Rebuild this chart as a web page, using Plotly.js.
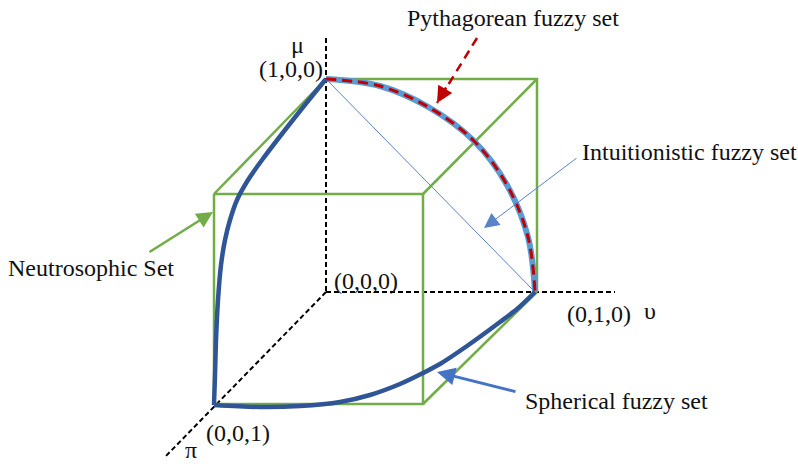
<!DOCTYPE html>
<html><head><meta charset="utf-8">
<script src="https://cdn.plot.ly/plotly-3.0.1.min.js"></script>
<style>html,body{margin:0;padding:0;background:#fff}#c{width:798px;height:466px}</style>
</head><body><div id="c"></div>
<script>
// Diagram geometry (image coordinates, y down)
var cubeFrontX = [214, 423, 423, 214, 214];
var cubeFrontY = [194, 194, 404, 404, 194];
var cubeBackX = [326, 537, 537];
var cubeBackY = [79, 79, 292];
var cubeEdgesX = [214, 326, null, 423, 537, null, 423, 537];
var cubeEdgesY = [194, 79, null, 194, 79, null, 404, 292];

var axisMuX = [326, 326], axisMuY = [38, 292];
var axisNuX = [326, 615], axisNuY = [292, 292];
var axisPiX = [326, 165], axisPiY = [292, 457];

var ifsX = [326, 535], ifsY = [79, 292];
var pfsX = [326, 380, 430, 474, 507, 528, 535];
var pfsY = [79, 86, 108, 141, 185, 237, 292];

// spherical fuzzy set: A -> C branch and C -> B branch
var sfsAX = [326, 300, 262, 248, 237, 230, 225, 221, 218, 216, 215, 214];
var sfsAY = [79, 111, 160, 180, 200, 220, 240, 265, 300, 340, 375, 405];
var sfsBX = [214, 260, 300, 340, 370, 400, 423, 440, 467, 500, 517, 535];
var sfsBY = [405, 407, 406, 402, 395, 384, 373, 364, 346, 322, 309, 292];

var labels = ["Pythagorean fuzzy set", "Intuitionistic fuzzy set", "Neutrosophic Set", "Spherical fuzzy set",
              "μ", "(1,0,0)", "(0,0,0)", "(0,1,0)", "υ", "(0,0,1)", "π"];
var labelX = [513, 689, 91, 616, 297, 291, 366, 599, 650, 238, 191];
var labelY = [18, 152, 268, 401, 45, 69, 281, 314, 311, 433, 450];

// arrows: [tailX, tailY, tipX, tipY]
var arrowPyth = [477, 38, 437, 103];
var arrowInt = [578, 157, 484, 228];
var arrowNeu = [148, 253, 213, 212];
var arrowSph = [517, 392, 437, 372];

var GREEN = '#70AD47', DARKBLUE = '#2F5597', LIGHTBLUE = '#5B9BD5', RED = '#C00000', THIN = '#5A82C8';

var traces = [
  {x: axisMuX, y: axisMuY, mode: 'lines', line: {color: '#000', width: 2, dash: '5px,3px'}},
  {x: axisNuX, y: axisNuY, mode: 'lines', line: {color: '#000', width: 2, dash: '5px,3px'}},
  {x: axisPiX, y: axisPiY, mode: 'lines', line: {color: '#000', width: 2, dash: '5px,3px'}},
  {x: cubeBackX, y: cubeBackY, mode: 'lines', line: {color: GREEN, width: 2.5}},
  {x: cubeEdgesX, y: cubeEdgesY, mode: 'lines', line: {color: GREEN, width: 2.5}},
  {x: cubeFrontX, y: cubeFrontY, mode: 'lines', line: {color: GREEN, width: 2.5}},
  {x: ifsX, y: ifsY, mode: 'lines', line: {color: THIN, width: 1}},
  {x: pfsX, y: pfsY, mode: 'lines', line: {color: LIGHTBLUE, width: 6, shape: 'spline'}},
  {x: pfsX, y: pfsY, mode: 'lines', line: {color: RED, width: 3, dash: '10px,6px', shape: 'spline'}},
  {x: sfsAX, y: sfsAY, mode: 'lines', line: {color: DARKBLUE, width: 4.5, shape: 'spline', smoothing: 0.8}},
  {x: sfsBX, y: sfsBY, mode: 'lines', line: {color: DARKBLUE, width: 4.5, shape: 'spline', smoothing: 0.8}},
  {x: [arrowPyth[0], arrowPyth[2]], y: [arrowPyth[1], arrowPyth[3]], mode: 'lines', line: {color: RED, width: 2.5, dash: '9px,6px'}}
];

var font = {family: '"Liberation Serif", "Times New Roman", Times, "DejaVu Serif", serif', size: 24, color: '#111'};
var ann = [];
for (var i = 0; i < labels.length; i++) {
  ann.push({x: labelX[i], y: labelY[i], xref: 'x', yref: 'y', text: labels[i], showarrow: false, font: font});
}
function arrow(a, color, w, size) {
  return {x: a[2], y: a[3], ax: a[0], ay: a[1], xref: 'x', yref: 'y', axref: 'x', ayref: 'y',
          text: '', showarrow: true, arrowhead: 2, arrowsize: size, arrowwidth: w, arrowcolor: color};
}
// red arrow: head only (shaft drawn dashed above)
ann.push({x: arrowPyth[2], y: arrowPyth[3], ax: 447, ay: 86, xref: 'x', yref: 'y', axref: 'x', ayref: 'y',
          text: '', showarrow: true, arrowhead: 2, arrowsize: 1.3, arrowwidth: 2.5, arrowcolor: RED});
ann.push(arrow(arrowInt, THIN, 1, 3));
ann.push(arrow(arrowNeu, GREEN, 2.5, 1.3));
ann.push(arrow(arrowSph, '#4472C4', 3, 1.2));

var layout = {
  width: 798, height: 466, margin: {l: 0, r: 0, t: 0, b: 0},
  paper_bgcolor: '#fff', plot_bgcolor: '#fff', showlegend: false,
  xaxis: {range: [0, 798], visible: false, fixedrange: true},
  yaxis: {range: [466, 0], visible: false, fixedrange: true},
  annotations: ann
};
traces.forEach(function(t){ t.hoverinfo = 'skip'; });
Plotly.newPlot('c', traces, layout, {staticPlot: true});
</script></body></html>
